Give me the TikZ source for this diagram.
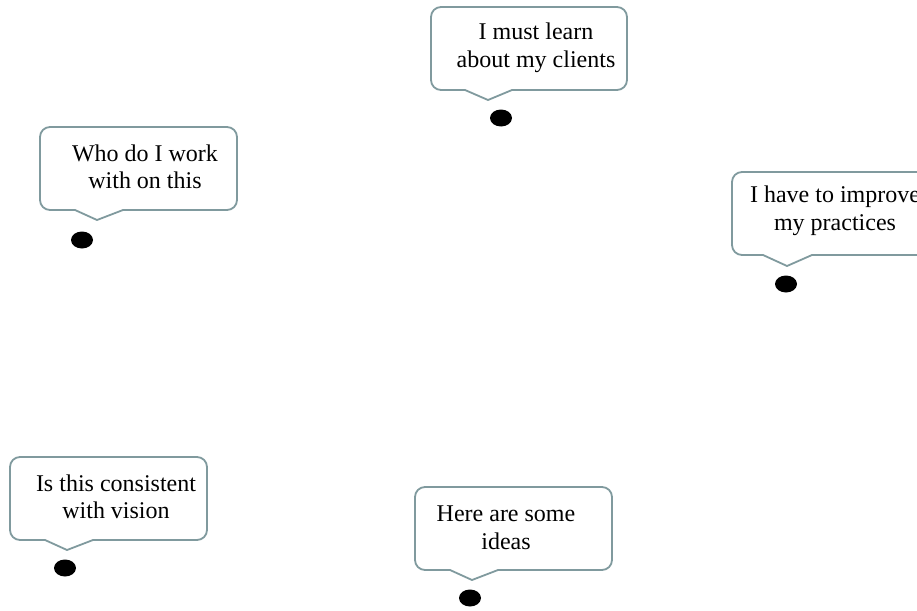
\documentclass[tikz,border=0pt]{standalone}
\usepackage{fontspec}
\setmainfont{Liberation Serif}
\usetikzlibrary{shapes.geometric}
\definecolor{bubbleline}{RGB}{128,154,158}

% speech bubble: #1 left, #2 top, #3 right, #4 bottom, #5 pointer base left,
% #6 tip x, #7 tip y, #8 pointer base right (units are pt, y measured downward)
\newcommand\speechbubble[8]{%
  \draw[bubble] ({#5},{-#4}) -- ({#1+10},{-#4})
    arc[start angle=270,end angle=180,radius=10pt] -- ({#1},{-#2-10})
    arc[start angle=180,end angle=90,radius=10pt] -- ({#3-10},{-#2})
    arc[start angle=90,end angle=0,radius=10pt] -- ({#3},{-#4+10})
    arc[start angle=0,end angle=-90,radius=10pt] -- ({#8},{-#4})
    -- ({#6},{-#7}) -- cycle;}

\begin{document}
\begin{tikzpicture}[x=1pt,y=1pt,
  bubble/.style={draw=bubbleline,line width=1.8pt,line join=round,fill=white},
  say/.style={align=center,font=\fontsize{24}{27.5}\selectfont,inner sep=0pt},
  dot/.style={ellipse,fill=black,draw=none,minimum width=22pt,minimum height=17pt,inner sep=0pt}]
\useasboundingbox (0,0) rectangle (917,-610);
\clip (0,0) rectangle (917,-610);

% bubbles
\speechbubble{431}{7}{627}{90}{465}{488}{100}{512}
\speechbubble{732}{172}{928}{255}{763}{787}{266}{812}
\speechbubble{40}{127}{237}{210}{75}{97}{220}{123}
\speechbubble{10}{457}{207}{540}{45}{67}{550}{93}
\speechbubble{415}{487}{612}{570}{450}{472}{580}{498}

% texts
\node[say] (learn)   at (536,-48)  {I must learn\\about my clients};
\node[say] (improve) at (835,-211) {I have to improve\\my practices};
\node[say] (who)     at (145,-167) {Who do I work\\with on this};
\node[say] (vision)  at (116,-497) {Is this consistent\\with vision};
\node[say] (ideas)   at (506,-528) {Here are some\\ideas};

% dots
\node[dot] (d1) at (501,-118) {};
\node[dot] (d2) at (786,-284) {};
\node[dot] (d3) at (82,-240)  {};
\node[dot] (d4) at (65,-568)  {};
\node[dot] (d5) at (470,-598) {};
\end{tikzpicture}
\end{document}
